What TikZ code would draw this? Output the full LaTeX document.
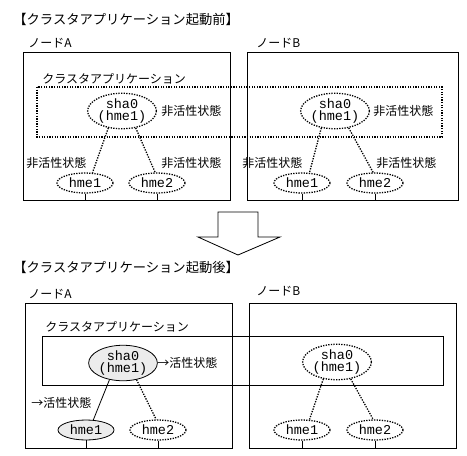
\documentclass[tikz,border=0pt]{standalone}
\usepackage{fontspec}
\setmainfont{Noto Sans CJK JP}
\newfontfamily\iffont{Liberation Mono}
\usetikzlibrary{shapes.geometric}
\begin{document}
\begin{tikzpicture}[x=1pt,y=-1pt,line width=0.8pt,
  dots/.style={line width=1.3pt,dash pattern=on 1.3pt off 1.3pt},
  shanode/.style={ellipse,draw,minimum width=66pt,minimum height=32pt,inner sep=0pt,align=center,font=\iffont\fontsize{13.5}{12.5}\selectfont},
  hmenode/.style={ellipse,draw,minimum width=56pt,minimum height=20pt,inner sep=0pt,font=\iffont\fontsize{13.5}{13}\selectfont},
  lbl/.style={anchor=west,inner sep=0pt,font=\fontsize{12}{14}\selectfont}]
\useasboundingbox (0,0) rectangle (467,456);
% before
\node [lbl,font=\fontsize{13.3}{15}\selectfont] (titlepre) at (13,19) {【クラスタアプリケーション起動前】};
\node [lbl] (nodeApre) at (28,43) {ノードA};
\node [lbl] (nodeBpre) at (256,43) {ノードB};
\draw (23,52) rectangle (230,200);
\draw (247,52) rectangle (458,200);
\draw [dots] (37,87) rectangle (442,137);
\node [lbl] (clspre) at (42,79) {クラスタアプリケーション};
\node [shanode,dots] (shaApre) at (122,111) {sha0\\(hme1)};
\node [shanode,dots] (shaBpre) at (335,111) {sha0\\(hme1)};
\node [hmenode,dots] (hmeaApre) at (85,183) {hme1};
\node [hmenode,dots] (hmebApre) at (157,183) {hme2};
\node [hmenode,dots] (hmeaBpre) at (302,183) {hme1};
\node [hmenode,dots] (hmebBpre) at (375,183) {hme2};
\node [lbl] (stshaA) at (161,111) {非活性状態};
\node [lbl] (stshaB) at (373,111) {非活性状態};
\node [lbl] (staA) at (26,163) {非活性状態};
\node [lbl] (stbA) at (161,163) {非活性状態};
\node [lbl] (staB) at (242,163) {非活性状態};
\node [lbl] (stbB) at (376,163) {非活性状態};
\draw [dots] (shaApre.231) -- (hmeaApre.54);
\draw [dots] (shaApre.309) -- (hmebApre.100);
\draw [dots] (shaBpre.231) -- (hmeaBpre.54);
\draw [dots] (shaBpre.309) -- (hmebBpre.100);
\foreach \n in {hmeaApre,hmebApre,hmeaBpre,hmebBpre}
  \draw (\n.south) -- (\n.south |- 0,200);
% arrow
\draw [fill=white] (218,212) -- (258,212) -- (258,237) -- (280,237) -- (238,255) -- (198,237) -- (218,237) -- cycle;
% after
\node [lbl,font=\fontsize{13.3}{15}\selectfont] (titlepost) at (13,267) {【クラスタアプリケーション起動後】};
\node [lbl] (nodeApost) at (28,294) {ノードA};
\node [lbl] (nodeBpost) at (256,291) {ノードB};
\draw (25,303) rectangle (232,448);
\draw (249,303) rectangle (456,448);
\draw (42,336) rectangle (443,385);
\node [lbl] (clspost) at (45,327) {クラスタアプリケーション};
\node [shanode,fill=gray!15] (shaApost) at (123,363) {sha0\\(hme1)};
\node [shanode,dots] (shaBpost) at (337,362) {sha0\\(hme1)};
\node [hmenode,fill=gray!15] (hmeaApost) at (86,430) {hme1};
\node [hmenode,dots] (hmebApost) at (158,430) {hme2};
\node [hmenode,dots] (hmeaBpost) at (302,430) {hme1};
\node [hmenode,dots] (hmebBpost) at (375,430) {hme2};
\node [lbl] (actsha) at (157,363) {→活性状態};
\node [lbl] (acthme) at (31,403) {→活性状態};
\draw (shaApost.231) -- (hmeaApost.54);
\draw [dots] (shaApost.309) -- (hmebApost.100);
\draw [dots] (shaBpost.231) -- (hmeaBpost.54);
\draw [dots] (shaBpost.309) -- (hmebBpost.100);
\foreach \n in {hmeaApost,hmebApost,hmeaBpost,hmebBpost}
  \draw (\n.south) -- (\n.south |- 0,448);
\end{tikzpicture}
\end{document}
